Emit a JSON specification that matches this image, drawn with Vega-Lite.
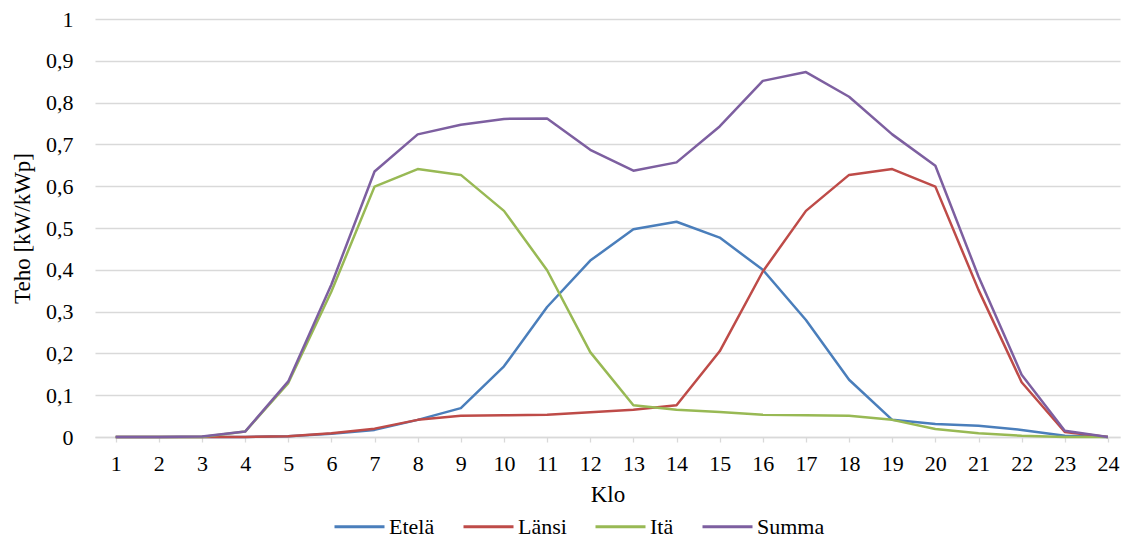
{
  "$schema": "https://vega.github.io/schema/vega-lite/v6.json",
  "autosize": {"type": "none"},
  "width": 1025,
  "height": 418,
  "padding": {"left": 95, "top": 19, "right": 2, "bottom": 101},
  "background": "white",
  "config": {
    "font": "serif",
    "view": {"stroke": null},
    "axis": {"labelFont": "serif", "titleFont": "serif", "labelColor": "#000000", "titleColor": "#000000", "titleFontWeight": "normal"},
    "legend": {"labelFont": "serif", "titleFont": "serif"}
  },
  "datasets": {
    "rows": [
      {"h": 1, "s": "Etelä", "v": 0}, {"h": 2, "s": "Etelä", "v": 0}, {"h": 3, "s": "Etelä", "v": 0}, {"h": 4, "s": "Etelä", "v": 0},
      {"h": 5, "s": "Etelä", "v": 0.002}, {"h": 6, "s": "Etelä", "v": 0.008}, {"h": 7, "s": "Etelä", "v": 0.017}, {"h": 8, "s": "Etelä", "v": 0.041},
      {"h": 9, "s": "Etelä", "v": 0.069}, {"h": 10, "s": "Etelä", "v": 0.169}, {"h": 11, "s": "Etelä", "v": 0.311}, {"h": 12, "s": "Etelä", "v": 0.422},
      {"h": 13, "s": "Etelä", "v": 0.497}, {"h": 14, "s": "Etelä", "v": 0.515}, {"h": 15, "s": "Etelä", "v": 0.477}, {"h": 16, "s": "Etelä", "v": 0.400},
      {"h": 17, "s": "Etelä", "v": 0.280}, {"h": 18, "s": "Etelä", "v": 0.137}, {"h": 19, "s": "Etelä", "v": 0.041}, {"h": 20, "s": "Etelä", "v": 0.031},
      {"h": 21, "s": "Etelä", "v": 0.027}, {"h": 22, "s": "Etelä", "v": 0.017}, {"h": 23, "s": "Etelä", "v": 0.003}, {"h": 24, "s": "Etelä", "v": 0},

      {"h": 1, "s": "Länsi", "v": 0}, {"h": 2, "s": "Länsi", "v": 0}, {"h": 3, "s": "Länsi", "v": 0}, {"h": 4, "s": "Länsi", "v": 0},
      {"h": 5, "s": "Länsi", "v": 0.002}, {"h": 6, "s": "Länsi", "v": 0.009}, {"h": 7, "s": "Länsi", "v": 0.020}, {"h": 8, "s": "Länsi", "v": 0.041},
      {"h": 9, "s": "Länsi", "v": 0.051}, {"h": 10, "s": "Länsi", "v": 0.052}, {"h": 11, "s": "Länsi", "v": 0.053}, {"h": 12, "s": "Länsi", "v": 0.059},
      {"h": 13, "s": "Länsi", "v": 0.065}, {"h": 14, "s": "Länsi", "v": 0.076}, {"h": 15, "s": "Länsi", "v": 0.205}, {"h": 16, "s": "Länsi", "v": 0.396},
      {"h": 17, "s": "Länsi", "v": 0.541}, {"h": 18, "s": "Länsi", "v": 0.627}, {"h": 19, "s": "Länsi", "v": 0.641}, {"h": 20, "s": "Länsi", "v": 0.599},
      {"h": 21, "s": "Länsi", "v": 0.352}, {"h": 22, "s": "Länsi", "v": 0.131}, {"h": 23, "s": "Länsi", "v": 0.012}, {"h": 24, "s": "Länsi", "v": 0},

      {"h": 1, "s": "Itä", "v": 0}, {"h": 2, "s": "Itä", "v": 0}, {"h": 3, "s": "Itä", "v": 0}, {"h": 4, "s": "Itä", "v": 0.013},
      {"h": 5, "s": "Itä", "v": 0.129}, {"h": 6, "s": "Itä", "v": 0.348}, {"h": 7, "s": "Itä", "v": 0.599}, {"h": 8, "s": "Itä", "v": 0.641},
      {"h": 9, "s": "Itä", "v": 0.627}, {"h": 10, "s": "Itä", "v": 0.541}, {"h": 11, "s": "Itä", "v": 0.399}, {"h": 12, "s": "Itä", "v": 0.203},
      {"h": 13, "s": "Itä", "v": 0.076}, {"h": 14, "s": "Itä", "v": 0.065}, {"h": 15, "s": "Itä", "v": 0.060}, {"h": 16, "s": "Itä", "v": 0.053},
      {"h": 17, "s": "Itä", "v": 0.052}, {"h": 18, "s": "Itä", "v": 0.051}, {"h": 19, "s": "Itä", "v": 0.041}, {"h": 20, "s": "Itä", "v": 0.019},
      {"h": 21, "s": "Itä", "v": 0.009}, {"h": 22, "s": "Itä", "v": 0.003}, {"h": 23, "s": "Itä", "v": 0}, {"h": 24, "s": "Itä", "v": 0},

      {"h": 1, "s": "Summa", "v": 0}, {"h": 2, "s": "Summa", "v": 0}, {"h": 3, "s": "Summa", "v": 0.001}, {"h": 4, "s": "Summa", "v": 0.013},
      {"h": 5, "s": "Summa", "v": 0.133}, {"h": 6, "s": "Summa", "v": 0.365}, {"h": 7, "s": "Summa", "v": 0.635}, {"h": 8, "s": "Summa", "v": 0.724},
      {"h": 9, "s": "Summa", "v": 0.747}, {"h": 10, "s": "Summa", "v": 0.761}, {"h": 11, "s": "Summa", "v": 0.762}, {"h": 12, "s": "Summa", "v": 0.687},
      {"h": 13, "s": "Summa", "v": 0.637}, {"h": 14, "s": "Summa", "v": 0.657}, {"h": 15, "s": "Summa", "v": 0.743}, {"h": 16, "s": "Summa", "v": 0.852},
      {"h": 17, "s": "Summa", "v": 0.873}, {"h": 18, "s": "Summa", "v": 0.814}, {"h": 19, "s": "Summa", "v": 0.724}, {"h": 20, "s": "Summa", "v": 0.649},
      {"h": 21, "s": "Summa", "v": 0.384}, {"h": 22, "s": "Summa", "v": 0.149}, {"h": 23, "s": "Summa", "v": 0.015}, {"h": 24, "s": "Summa", "v": 0}
    ]
  },
  "data": {"name": "rows"},
  "mark": {"type": "line", "strokeWidth": 2.5, "strokeJoin": "round"},
  "encoding": {
    "x": {
      "field": "h",
      "type": "quantitative",
      "title": "Klo",
      "scale": {"domain": [0.52, 24.28], "nice": false, "zero": false},
      "axis": {
        "values": [1,2,3,4,5,6,7,8,9,10,11,12,13,14,15,16,17,18,19,20,21,22,23,24],
        "format": "d",
        "grid": false,
        "domainColor": "#d9d9d9",
        "domainWidth": 1.5,
        "tickColor": "#d9d9d9",
        "tickWidth": 1.3,
        "tickSize": 5,
        "labelFontSize": 22,
        "labelPadding": 11,
        "labelFlush": false,
        "labelOverlap": false,
        "titleFontSize": 23,
        "titlePadding": 9
      }
    },
    "y": {
      "field": "v",
      "type": "quantitative",
      "title": "Teho [kW/kWp]",
      "scale": {"domain": [0, 1], "nice": false},
      "axis": {
        "values": [0, 0.1, 0.2, 0.3, 0.4, 0.5, 0.6, 0.7, 0.8, 0.9, 1],
        "labelExpr": "replace(format(datum.value, '~g'), '.', ',')",
        "grid": true,
        "gridColor": "#d9d9d9",
        "gridWidth": 1.3,
        "domain": false,
        "ticks": false,
        "labelFontSize": 22,
        "labelPadding": 22,
        "titleFontSize": 23,
        "titlePadding": 11
      }
    },
    "color": {
      "field": "s",
      "type": "nominal",
      "sort": ["Etelä", "Länsi", "Itä", "Summa"],
      "scale": {"domain": ["Etelä", "Länsi", "Itä", "Summa"], "range": ["#4A7EBB", "#BE4B48", "#98B954", "#7D5FA0"]},
      "legend": {
        "title": null,
        "orient": "none",
        "direction": "horizontal",
        "legendX": 238,
        "legendY": 481,
        "symbolType": "stroke",
        "symbolSize": 2500,
        "symbolStrokeWidth": 3,
        "labelFontSize": 22,
        "labelColor": "#000000",
        "labelOffset": 3,
        "labelLimit": 0,
        "columnPadding": 22,
        "padding": 0
      }
    }
  }
}
